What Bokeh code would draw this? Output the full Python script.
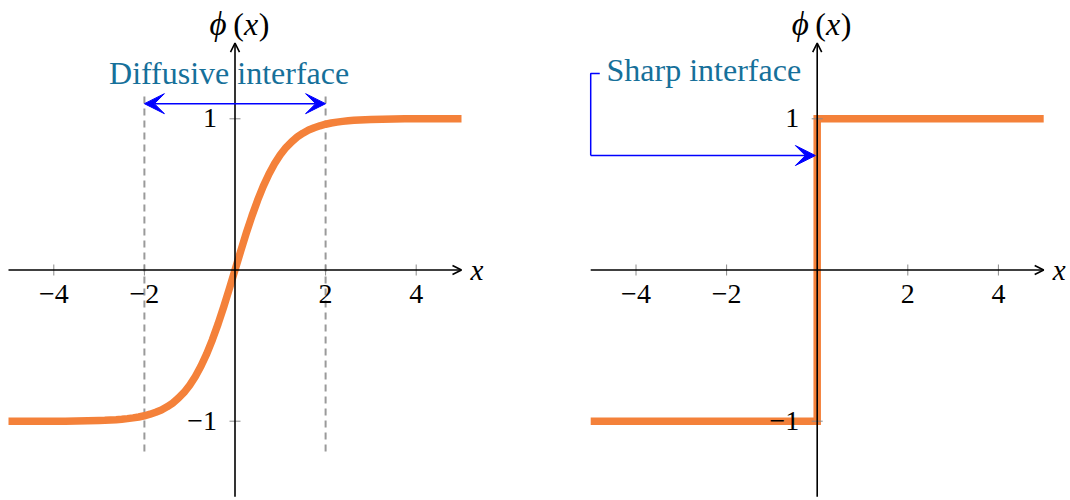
import math
from bokeh.plotting import figure
from bokeh.layouts import row
from bokeh.models import Range1d, Arrow, OpenHead, VeeHead
from bokeh.core.properties import value
from bokeh.embed import file_html
from bokeh.resources import INLINE

# Diffuse-interface order parameter phi(x); finer sampling across the interface
x_diffuse = [-5.0, -4.75, -4.5, -4.25, -4.0, -3.75, -3.5, -3.25,
             -3.0, -2.875, -2.75, -2.625, -2.5, -2.375, -2.25, -2.125,
             -2.0, -1.875, -1.75, -1.625, -1.5, -1.375, -1.25, -1.125,
             -1.0, -0.875, -0.75, -0.625, -0.5, -0.375, -0.25, -0.125,
             0.0, 0.125, 0.25, 0.375, 0.5, 0.625, 0.75, 0.875,
             1.0, 1.125, 1.25, 1.375, 1.5, 1.625, 1.75, 1.875,
             2.0, 2.125, 2.25, 2.375, 2.5, 2.625, 2.75, 2.875,
             3.0, 3.25, 3.5, 3.75, 4.0, 4.25, 4.5, 4.75, 5.0]
phi_diffuse = [-1.00, -1.00, -1.00, -1.00, -1.00, -1.00, -0.998, -0.997,
               -0.995, -0.994, -0.992, -0.990, -0.987, -0.983, -0.978, -0.972,
               -0.964, -0.954, -0.941, -0.926, -0.905, -0.880, -0.848, -0.810,
               -0.762, -0.704, -0.635, -0.555, -0.462, -0.358, -0.245, -0.124,
               0.0, 0.124, 0.245, 0.358, 0.462, 0.555, 0.635, 0.704,
               0.762, 0.810, 0.848, 0.880, 0.905, 0.926, 0.941, 0.954,
               0.964, 0.972, 0.978, 0.983, 0.987, 0.990, 0.992, 0.994,
               0.995, 0.997, 0.998, 1.00, 1.00, 1.00, 1.00, 1.00, 1.00]

# Sharp-interface order parameter: a step at x = 0
x_sharp = [-5.0, 0.0, 0.0, 5.0]
phi_sharp = [-1.0, -1.0, 1.0, 1.0]

# Interface width markers for the diffuse case
interface_edges = [-2.0, 2.0]

# Axis ticks
x_ticks = [-4, -2, 2, 4]
x_tick_labels = ["\u22124", "\u22122", "2", "4"]
y_ticks = [-1, 1]
y_tick_labels = ["\u22121", "1"]

ORANGE = "#f4813a"
TEXT_BLUE = "#16709a"
TICK_GRAY = "#8a8a8a"
SERIF = "Liberation Serif"
PX_X = 45.3    # pixels per x unit
PX_Y = 151.2   # pixels per y unit
W, H = 535, 500
Y0_PX = 269.5  # vertical pixel position of phi = 0


def make_panel(origin_px):
    xr = Range1d(-origin_px / PX_X, (W - origin_px) / PX_X)
    yr = Range1d(-(H - Y0_PX) / PX_Y, Y0_PX / PX_Y)
    p = figure(width=W, height=H, x_range=xr, y_range=yr,
               x_axis_location=None, y_axis_location=None,
               output_backend="svg", toolbar_location=None,
               min_border=0, outline_line_color=None)
    p.grid.visible = False
    p.background_fill_color = "white"
    p.border_fill_color = "white"
    return p


def decorate_axes(p):
    # small tick marks crossing each axis
    p.scatter(x=x_ticks, y=[0] * len(x_ticks), marker="dash", size=11,
              angle=math.pi / 2, line_color=TICK_GRAY, line_width=1)
    p.scatter(x=[0] * len(y_ticks), y=y_ticks, marker="dash", size=11,
              line_color=TICK_GRAY, line_width=1)

    # tick labels
    tick_kw = dict(text_font=value(SERIF), text_font_size="28px", text_color="black",
                   text_baseline="alphabetic")
    p.text(x=x_ticks, y=[0] * len(x_ticks), text=x_tick_labels,
           text_align="center", y_offset=23.5, **tick_kw)
    p.text(x=[0] * len(y_ticks), y=y_ticks, text=y_tick_labels,
           text_align="right", x_offset=-18, y_offset=-0.5, **tick_kw)

    # axis lines with arrow tips
    p.add_layout(Arrow(x_start=-5.0, y_start=0, x_end=5.0, y_end=0,
                       line_color="black", line_width=1.6,
                       end=OpenHead(size=9, line_color="black", line_width=1.6)))
    p.add_layout(Arrow(x_start=0, y_start=-1.5, x_end=0, y_end=1.5,
                       line_color="black", line_width=1.6,
                       end=OpenHead(size=9, line_color="black", line_width=1.6)))

    # axis labels
    lab_kw = dict(text_font=value(SERIF), text_color="black",
                  text_baseline="alphabetic", text_align="center")
    p.text(x=[0], y=[1.624], text=["\u03d5"], x_offset=-17, text_font_size="33px",
           text_font_style="italic", **lab_kw)
    p.text(x=[0], y=[1.624], text=["("], x_offset=3.5, text_font_size="32px", **lab_kw)
    p.text(x=[0], y=[1.624], text=["x"], x_offset=16, text_font_size="32px",
           text_font_style="italic", **lab_kw)
    p.text(x=[0], y=[1.624], text=[")"], x_offset=29, text_font_size="32px", **lab_kw)
    p.text(x=[5.2], y=[0], text=["x"], text_font=value(SERIF), text_font_size="29px",
           text_font_style="italic", text_align="left", text_baseline="middle")


# left panel: diffuse interface
left = make_panel(234.5)
left.segment(x0=interface_edges, y0=[-1.2, -1.2], x1=interface_edges, y1=[1.17, 1.17],
             line_color="#9a9a9a", line_width=2, line_dash="7 5")
left.line(x_diffuse, phi_diffuse, line_color=ORANGE, line_width=7.5, line_join="round")
decorate_axes(left)
left.add_layout(Arrow(x_start=interface_edges[0], y_start=1.1,
                      x_end=interface_edges[1], y_end=1.1,
                      line_color="blue", line_width=1.5,
                      start=VeeHead(size=20, fill_color="blue", line_color="blue"),
                      end=VeeHead(size=20, fill_color="blue", line_color="blue")))
left.text(x=[-0.13], y=[1.306], text=["Diffusive interface"],
          text_font=value(SERIF), text_font_size="32px", text_color=TEXT_BLUE,
          text_align="center", text_baseline="alphabetic")

# right panel: sharp interface
right = make_panel(281.7)
right.line(x_sharp, phi_sharp, line_color=ORANGE, line_width=7.5, line_join="miter")
decorate_axes(right)
right.line([-4.8, -5.0, -5.0], [1.30, 1.30, 0.757], line_color="blue", line_width=1.5)
right.add_layout(Arrow(x_start=-5.0, y_start=0.757, x_end=-0.04, y_end=0.757,
                       line_color="blue", line_width=1.5,
                       end=VeeHead(size=20, fill_color="blue", line_color="blue")))
right.text(x=[-4.65], y=[1.326], text=["Sharp interface"],
           text_font=value(SERIF), text_font_size="32px", text_color=TEXT_BLUE,
           text_align="left", text_baseline="alphabetic")

layout = row(left, right)
open("out.html", "w").write(file_html(layout, INLINE))
